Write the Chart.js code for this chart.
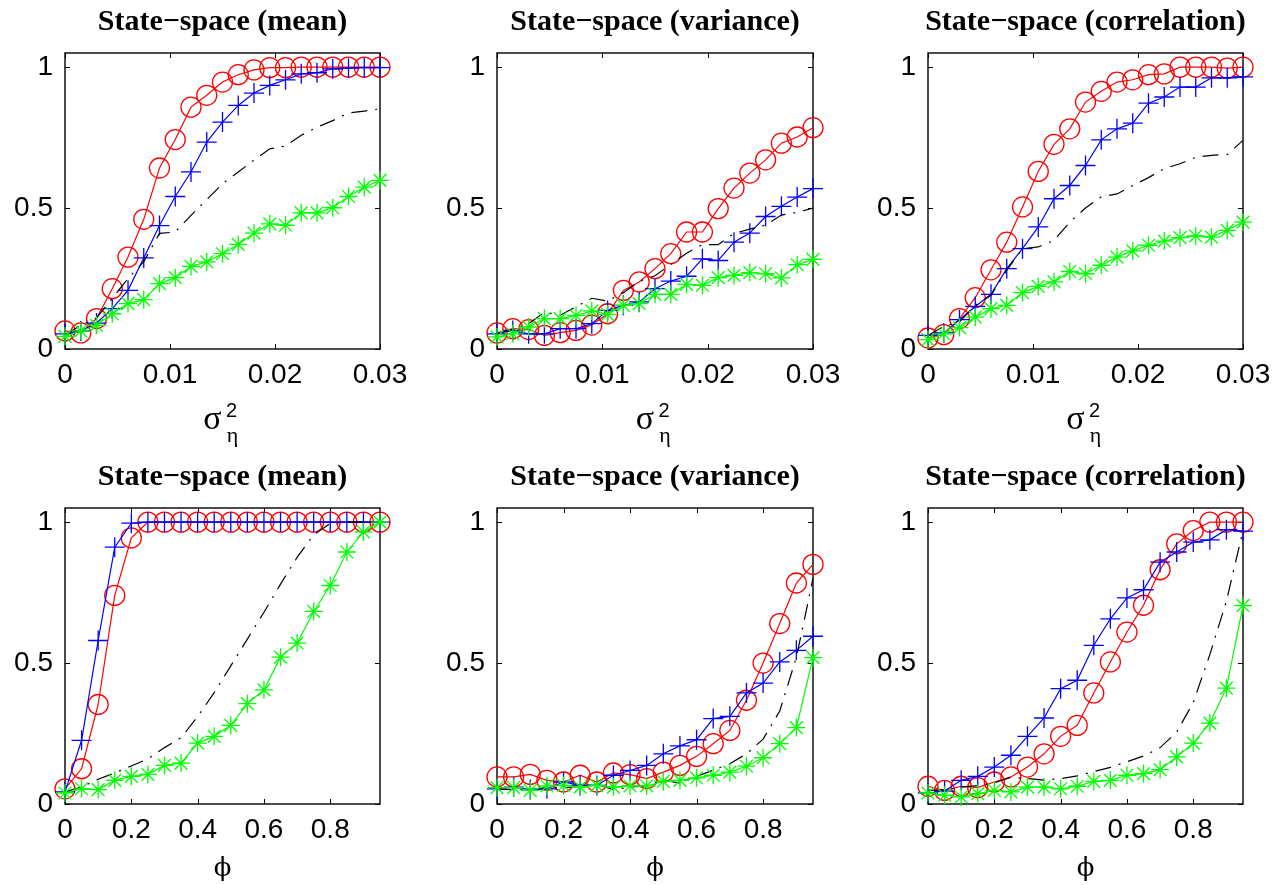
<!DOCTYPE html>
<html>
<head>
<meta charset="utf-8">
<title>State-space</title>
<script src="https://cdn.jsdelivr.net/npm/chart.js@4.4.1/dist/chart.umd.min.js"></script>
<style>
  body { margin: 0; background: #fff; }
  #page { position: relative; width: 1280px; height: 885px; overflow: hidden; background: #fff; }
  canvas { position: absolute; }
  .lbl { position: absolute; white-space: nowrap; transform: translateX(-50%); color: #000; }
</style>
</head>
<body>
<div id="page"></div>
<script>
// x grids
const sigmaX = [0, 0.0015, 0.003, 0.0045, 0.006, 0.0075, 0.009, 0.0105, 0.012, 0.0135, 0.015,
  0.0165, 0.018, 0.0195, 0.021, 0.0225, 0.024, 0.0255, 0.027, 0.0285, 0.03];
const phiX = [0, 0.05, 0.1, 0.15, 0.2, 0.25, 0.3, 0.35, 0.4, 0.45, 0.5,
  0.55, 0.6, 0.65, 0.7, 0.75, 0.8, 0.85, 0.9, 0.95];

// tick labels
const sigmaTicks = [0, 0.01, 0.02, 0.03];
const sigmaTickLabels = ['0', '0.01', '0.02', '0.03'];
const phiTicks = [0, 0.2, 0.4, 0.6, 0.8];
const phiTickLabels = ['0', '0.2', '0.4', '0.6', '0.8'];
const yTicks = [0, 0.5, 1];
const yTickLabels = ['0', '0.5', '1'];

// top row: sigma^2_eta
const meanSigmaRed = [0.064, 0.057, 0.108, 0.214, 0.326, 0.46, 0.642, 0.743, 0.858, 0.90, 0.947, 0.973, 0.99, 0.998, 0.998, 1, 1, 1, 1, 1, 1];
const meanSigmaBlue = [0.054, 0.064, 0.092, 0.143, 0.208, 0.323, 0.438, 0.541, 0.628, 0.734, 0.805, 0.864, 0.908, 0.935, 0.955, 0.976, 0.98, 0.994, 0.996, 0.998, 0.998];
const meanSigmaBlack = [0.05, 0.084, 0.11, 0.18, 0.25, 0.31, 0.41, 0.415, 0.474, 0.53, 0.586, 0.628, 0.67, 0.71, 0.72, 0.758, 0.787, 0.81, 0.837, 0.844, 0.852];
const meanSigmaGreen = [0.045, 0.064, 0.084, 0.125, 0.161, 0.175, 0.232, 0.253, 0.293, 0.309, 0.338, 0.371, 0.411, 0.444, 0.439, 0.483, 0.483, 0.501, 0.541, 0.574, 0.598];

const varSigmaRed = [0.057, 0.072, 0.069, 0.048, 0.058, 0.066, 0.085, 0.125, 0.208, 0.238, 0.285, 0.338, 0.415, 0.415, 0.498, 0.571, 0.624, 0.671, 0.73, 0.752, 0.785];
const varSigmaBlue = [0.054, 0.066, 0.054, 0.054, 0.072, 0.072, 0.09, 0.137, 0.155, 0.167, 0.214, 0.241, 0.258, 0.32, 0.314, 0.379, 0.411, 0.47, 0.506, 0.539, 0.569];
const varSigmaBlack = [0.054, 0.07, 0.09, 0.13, 0.12, 0.15, 0.18, 0.17, 0.2, 0.24, 0.26, 0.3, 0.34, 0.37, 0.37, 0.41, 0.425, 0.44, 0.475, 0.485, 0.5];
const varSigmaGreen = [0.043, 0.054, 0.078, 0.108, 0.108, 0.119, 0.135, 0.123, 0.155, 0.161, 0.194, 0.194, 0.229, 0.226, 0.253, 0.261, 0.271, 0.267, 0.252, 0.299, 0.318];

const corSigmaRed = [0.039, 0.051, 0.108, 0.182, 0.281, 0.379, 0.504, 0.63, 0.726, 0.781, 0.876, 0.914, 0.947, 0.955, 0.973, 0.976, 1, 1, 1, 0.996, 1];
const corSigmaBlue = [0.048, 0.057, 0.104, 0.151, 0.194, 0.285, 0.356, 0.433, 0.533, 0.58, 0.651, 0.742, 0.781, 0.801, 0.872, 0.894, 0.929, 0.929, 0.962, 0.962, 0.965];
const corSigmaBlack = [0.048, 0.08, 0.096, 0.155, 0.19, 0.28, 0.356, 0.362, 0.385, 0.45, 0.5, 0.54, 0.55, 0.58, 0.608, 0.64, 0.657, 0.68, 0.687, 0.69, 0.74];
const corSigmaGreen = [0.033, 0.054, 0.076, 0.113, 0.143, 0.155, 0.2, 0.222, 0.238, 0.275, 0.267, 0.297, 0.326, 0.348, 0.368, 0.383, 0.395, 0.401, 0.397, 0.421, 0.45];

// bottom row: phi
const meanPhiRed = [0.054, 0.125, 0.353, 0.74, 0.944, 1, 1, 1, 1, 1, 1, 1, 1, 1, 1, 1, 1, 1, 1, 1];
const meanPhiBlue = [0.043, 0.226, 0.58, 0.911, 0.996, 1, 1, 1, 1, 1, 1, 1, 1, 1, 1, 1, 1, 1, 1, 1];
const meanPhiBlack = [0.043, 0.06, 0.088, 0.11, 0.135, 0.16, 0.2, 0.235, 0.31, 0.395, 0.49, 0.585, 0.68, 0.78, 0.875, 0.955, 0.995, 1, 1, 1];
const meanPhiGreen = [0.039, 0.054, 0.051, 0.084, 0.098, 0.105, 0.137, 0.145, 0.216, 0.24, 0.279, 0.356, 0.405, 0.521, 0.571, 0.683, 0.775, 0.894, 0.965, 1];

const varPhiRed = [0.096, 0.096, 0.105, 0.084, 0.078, 0.102, 0.078, 0.11, 0.104, 0.09, 0.113, 0.137, 0.169, 0.214, 0.261, 0.368, 0.5, 0.64, 0.784, 0.85];
const varPhiBlue = [0.054, 0.06, 0.051, 0.054, 0.078, 0.066, 0.066, 0.102, 0.119, 0.137, 0.178, 0.206, 0.228, 0.303, 0.311, 0.394, 0.429, 0.504, 0.545, 0.595];
const varPhiBlack = [0.054, 0.051, 0.051, 0.06, 0.058, 0.062, 0.07, 0.051, 0.06, 0.064, 0.084, 0.074, 0.098, 0.12, 0.143, 0.178, 0.23, 0.33, 0.52, 0.8];
const varPhiGreen = [0.058, 0.058, 0.048, 0.064, 0.066, 0.06, 0.066, 0.06, 0.064, 0.064, 0.08, 0.084, 0.093, 0.102, 0.113, 0.134, 0.164, 0.214, 0.271, 0.519];

const corPhiRed = [0.063, 0.048, 0.063, 0.058, 0.078, 0.096, 0.131, 0.178, 0.24, 0.279, 0.394, 0.504, 0.61, 0.705, 0.831, 0.923, 0.97, 1, 1, 1];
const corPhiBlue = [0.039, 0.046, 0.084, 0.098, 0.131, 0.173, 0.24, 0.305, 0.409, 0.439, 0.563, 0.657, 0.731, 0.76, 0.858, 0.894, 0.929, 0.937, 0.973, 0.968];
const corPhiBlack = [0.048, 0.05, 0.06, 0.065, 0.075, 0.095, 0.09, 0.085, 0.09, 0.1, 0.115, 0.13, 0.15, 0.17, 0.2, 0.255, 0.36, 0.53, 0.72, 0.97];
const corPhiGreen = [0.039, 0.031, 0.025, 0.037, 0.048, 0.043, 0.06, 0.06, 0.054, 0.063, 0.08, 0.084, 0.102, 0.108, 0.122, 0.167, 0.216, 0.287, 0.411, 0.704];

const titles = ['State−space (mean)', 'State−space (variance)', 'State−space (correlation)'];

// plot boxes in page pixels
const cols = [[65, 380], [497, 813], [928, 1243]];
const rows = [[53, 349], [508, 804]];

const panels = [
  { col: 0, row: 0, x: sigmaX, max: 0.03, ticks: sigmaTicks, labels: sigmaTickLabels, s: [meanSigmaRed, meanSigmaBlue, meanSigmaBlack, meanSigmaGreen] },
  { col: 1, row: 0, x: sigmaX, max: 0.03, ticks: sigmaTicks, labels: sigmaTickLabels, s: [varSigmaRed, varSigmaBlue, varSigmaBlack, varSigmaGreen] },
  { col: 2, row: 0, x: sigmaX, max: 0.03, ticks: sigmaTicks, labels: sigmaTickLabels, s: [corSigmaRed, corSigmaBlue, corSigmaBlack, corSigmaGreen] },
  { col: 0, row: 1, x: phiX, max: 0.95, ticks: phiTicks, labels: phiTickLabels, s: [meanPhiRed, meanPhiBlue, meanPhiBlack, meanPhiGreen] },
  { col: 1, row: 1, x: phiX, max: 0.95, ticks: phiTicks, labels: phiTickLabels, s: [varPhiRed, varPhiBlue, varPhiBlack, varPhiGreen] },
  { col: 2, row: 1, x: phiX, max: 0.95, ticks: phiTicks, labels: phiTickLabels, s: [corPhiRed, corPhiBlue, corPhiBlack, corPhiGreen] },
];

const page = document.getElementById('page');

// matlab style box with inward ticks on all four sides
const boxFrame = {
  id: 'boxFrame',
  beforeDatasetsDraw(chart) {
    const { ctx, chartArea: a, scales: { x, y } } = chart;
    ctx.save();
    ctx.strokeStyle = '#000';
    ctx.lineWidth = 1;
    ctx.beginPath();
    x.ticks.forEach(t => {
      const px = Math.round(x.getPixelForValue(t.value)) + 0.5;
      ctx.moveTo(px, a.bottom); ctx.lineTo(px, a.bottom - 5);
      ctx.moveTo(px, a.top); ctx.lineTo(px, a.top + 5);
    });
    y.ticks.forEach(t => {
      const py = Math.round(y.getPixelForValue(t.value)) + 0.5;
      ctx.moveTo(a.left, py); ctx.lineTo(a.left + 5, py);
      ctx.moveTo(a.right, py); ctx.lineTo(a.right - 5, py);
    });
    ctx.stroke();
    ctx.lineWidth = 1.4;
    ctx.strokeRect(a.left, a.top, a.right - a.left, a.bottom - a.top);
    ctx.restore();
  }
};

function addLabel(text, x, top, font) {
  const el = document.createElement('div');
  el.className = 'lbl';
  el.textContent = text;
  el.style.left = x + 'px';
  el.style.top = top + 'px';
  el.style.font = font;
  page.appendChild(el);
}

const padL = 65, padT = 20, padR = 35, padB = 60;

function zeroPad(scale) {
  scale.paddingTop = 0; scale.paddingBottom = 0;
  scale.paddingLeft = 0; scale.paddingRight = 0;
}

panels.forEach(p => {
  const [L, R] = cols[p.col];
  const [T, B] = rows[p.row];
  const cv = document.createElement('canvas');
  const w = (R - L) + padL + padR;
  const h = (B - T) + padT + padB;
  cv.width = w; cv.height = h;
  cv.style.width = w + 'px'; cv.style.height = h + 'px';
  cv.style.left = (L - padL) + 'px';
  cv.style.top = (T - padT) + 'px';
  page.appendChild(cv);

  const pts = ys => p.x.map((v, i) => ({ x: v, y: ys[i] }));
  const tickFont = { family: 'Liberation Sans', size: 28 };

  new Chart(cv.getContext('2d'), {
    type: 'line',
    data: {
      datasets: [
        { data: pts(p.s[0]), borderColor: '#ff0000', borderWidth: 1.2, pointStyle: 'circle', pointRadius: 10,
          pointBorderColor: '#ff0000', pointBackgroundColor: 'rgba(0,0,0,0)', pointBorderWidth: 1.3, order: 4 },
        { data: pts(p.s[1]), borderColor: '#0000ff', borderWidth: 1.2, pointStyle: 'cross', pointRadius: 10,
          pointBorderColor: '#0000ff', pointBorderWidth: 1.3, order: 3 },
        { data: pts(p.s[2]), borderColor: '#000000', borderWidth: 1.2, borderDash: [16, 8, 2, 8], pointRadius: 0, order: 2 },
        { data: pts(p.s[3]), borderColor: '#00ff00', borderWidth: 1.2, pointStyle: 'star', pointRadius: 9,
          pointBorderColor: '#00ff00', pointBorderWidth: 1.3, order: 1 },
      ]
    },
    options: {
      responsive: false,
      animation: false,
      devicePixelRatio: 1,
      events: [],
      elements: { line: { tension: 0, fill: false } },
      layout: { padding: { left: 0, top: padT, right: padR, bottom: 0 } },
      plugins: { legend: { display: false }, tooltip: { enabled: false } },
      datasets: { line: { clip: false } },
      scales: {
        x: {
          type: 'linear', min: 0, max: p.max,
          grid: { display: false, drawTicks: false },
          border: { display: false },
          afterBuildTicks: s => { s.ticks = p.ticks.map(v => ({ value: v })); },
          afterFit: s => { s.height = padB; zeroPad(s); },
          ticks: { autoSkip: false, maxRotation: 0, minRotation: 0, padding: 9, color: '#000', font: tickFont,
            callback: (v, i) => p.labels[i] }
        },
        y: {
          type: 'linear', min: 0, max: 1.05,
          grid: { display: false, drawTicks: false },
          border: { display: false },
          afterBuildTicks: s => { s.ticks = yTicks.map(v => ({ value: v })); },
          afterFit: s => { s.width = padL; zeroPad(s); },
          ticks: { padding: 12, color: '#000', font: tickFont, callback: (v, i) => yTickLabels[i] }
        }
      }
    },
    plugins: [boxFrame]
  });

  const cx = (L + R) / 2;
  addLabel(titles[p.col], cx, p.row === 0 ? 5 : 460, 'bold 30px/30px "Liberation Serif"');
  if (p.row === 0) {
    addLabel('σ', cx - 10, 401, '34px/34px "Liberation Serif"');
    addLabel('2', cx + 9, 400, '20px/20px "Liberation Sans"');
    addLabel('η', cx + 10, 424, '22px/22px "Liberation Serif"');
  } else {
    addLabel('ϕ', cx, 854, '26px/26px "DejaVu Serif"');
  }
});
</script>
</body>
</html>
